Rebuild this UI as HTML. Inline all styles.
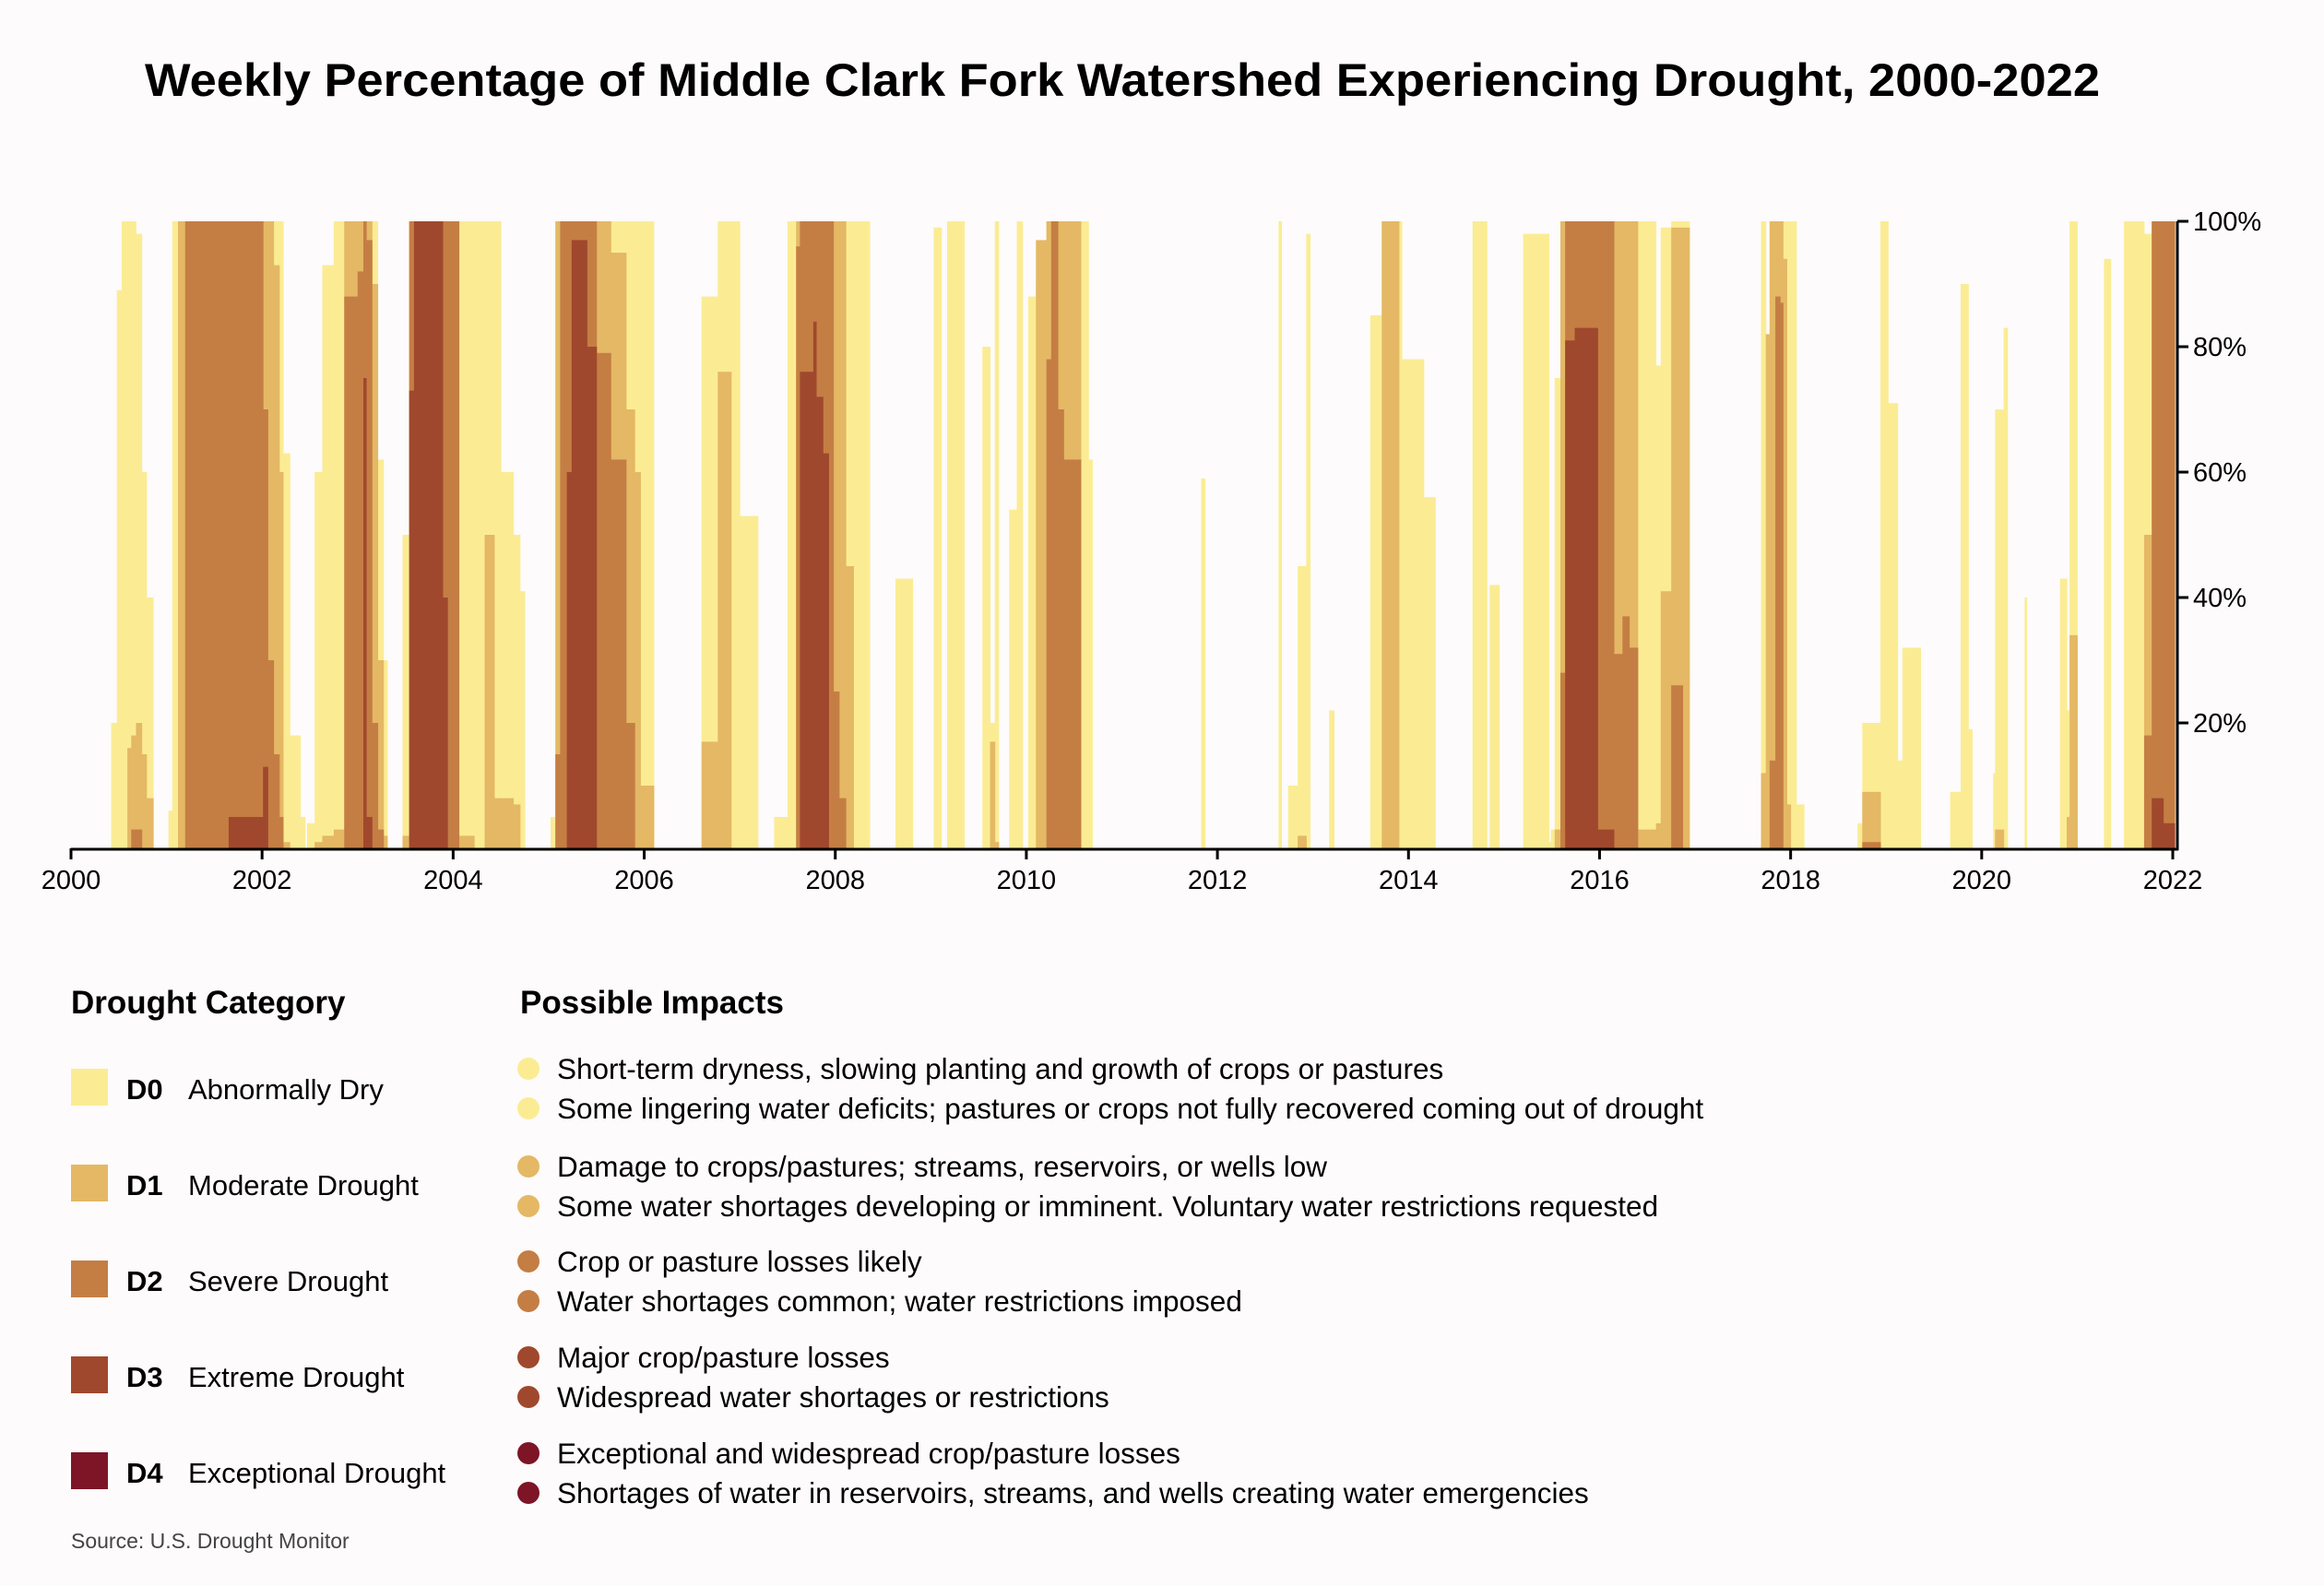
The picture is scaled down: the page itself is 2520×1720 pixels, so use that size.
<!DOCTYPE html>
<html><head><meta charset="utf-8"><style>
html,body{margin:0;padding:0;background:#fdfbfb;}
svg{display:block;font-family:"Liberation Sans",sans-serif;}
</style></head><body>
<svg id="chart" width="2520" height="1720" viewBox="0 0 2520 1720" xmlns="http://www.w3.org/2000/svg">
<rect x="0" y="0" width="2520" height="1720" fill="#fdfbfb"/>
<text x="1217" y="104" text-anchor="middle" font-size="50" font-weight="bold" fill="#000" textLength="2120" lengthAdjust="spacingAndGlyphs">Weekly Percentage of Middle Clark Fork Watershed Experiencing Drought, 2000-2022</text>
<g id="bars"></g>
<g id="axes"></g>

<text x="77" y="1099" font-size="35" font-weight="bold" fill="#000">Drought Category</text>
<text x="564" y="1099" font-size="35" font-weight="bold" fill="#000">Possible Impacts</text>

<g><rect x="77" y="1159" width="40" height="40" fill="#fbec94"/><text x="137" y="1192" font-size="31" font-weight="bold">D0</text><text x="204" y="1192" font-size="31">Abnormally Dry</text></g>
<g><rect x="77" y="1263" width="40" height="40" fill="#e4b865"/><text x="137" y="1296" font-size="31" font-weight="bold">D1</text><text x="204" y="1296" font-size="31">Moderate Drought</text></g>
<g><rect x="77" y="1367" width="40" height="40" fill="#c47e44"/><text x="137" y="1400" font-size="31" font-weight="bold">D2</text><text x="204" y="1400" font-size="31">Severe Drought</text></g>
<g><rect x="77" y="1471" width="40" height="40" fill="#a0482d"/><text x="137" y="1504" font-size="31" font-weight="bold">D3</text><text x="204" y="1504" font-size="31">Extreme Drought</text></g>
<g><rect x="77" y="1575" width="40" height="40" fill="#7d1527"/><text x="137" y="1608" font-size="31" font-weight="bold">D4</text><text x="204" y="1608" font-size="31">Exceptional Drought</text></g>

<g font-size="31.5" fill="#000">
<circle cx="573" cy="1159" r="12" fill="#fbec94"/><text x="604" y="1170">Short-term dryness, slowing planting and growth of crops or pastures</text>
<circle cx="573" cy="1202" r="12" fill="#fbec94"/><text x="604" y="1213">Some lingering water deficits; pastures or crops not fully recovered coming out of drought</text>
<circle cx="573" cy="1265" r="12" fill="#e4b865"/><text x="604" y="1276">Damage to crops/pastures; streams, reservoirs, or wells low</text>
<circle cx="573" cy="1308" r="12" fill="#e4b865"/><text x="604" y="1319">Some water shortages developing or imminent. Voluntary water restrictions requested</text>
<circle cx="573" cy="1368" r="12" fill="#c47e44"/><text x="604" y="1379">Crop or pasture losses likely</text>
<circle cx="573" cy="1411" r="12" fill="#c47e44"/><text x="604" y="1422">Water shortages common; water restrictions imposed</text>
<circle cx="573" cy="1472" r="12" fill="#a0482d"/><text x="604" y="1483">Major crop/pasture losses</text>
<circle cx="573" cy="1515" r="12" fill="#a0482d"/><text x="604" y="1526">Widespread water shortages or restrictions</text>
<circle cx="573" cy="1576" r="12" fill="#7d1527"/><text x="604" y="1587">Exceptional and widespread crop/pasture losses</text>
<circle cx="573" cy="1619" r="12" fill="#7d1527"/><text x="604" y="1630">Shortages of water in reservoirs, streams, and wells creating water emergencies</text>
</g>
<text x="77" y="1679" font-size="23" fill="#444">Source: U.S. Drought Monitor</text>
</svg>
<script>
const segStart=[2000.42,2000.48,2000.53,2000.59,2000.63,2000.68,2000.74,2000.79,
2001.02,2001.06,2001.12,2001.195,2001.65,2002.01,2002.06,2002.12,2002.18,2002.22,2002.29,2002.4,
2002.47,2002.55,2002.63,2002.75,2002.86,2003.0,2003.06,2003.09,2003.15,2003.21,2003.27,
2003.47,2003.54,2003.59,2003.89,2003.94,2004.02,2004.06,2004.22,2004.33,2004.43,2004.5,2004.63,2004.7,
2005.02,2005.07,2005.12,2005.19,2005.24,2005.4,2005.5,2005.65,2005.81,2005.9,2005.96,
2006.6,2006.77,2006.91,2007.0,2007.36,2007.5,2007.59,2007.63,2007.77,2007.8,2007.87,2007.93,2007.98,2008.04,2008.11,2008.19,
2008.63,2009.03,2009.17,2009.54,2009.62,2009.67,2009.82,2009.9,2010.02,2010.1,2010.21,2010.26,2010.33,2010.39,2010.57,2010.65,
2011.83,2012.64,2012.74,2012.84,2012.93,2013.17,2013.6,2013.72,2013.9,2013.93,2014.16,2014.67,2014.85,
2015.2,2015.47,2015.49,2015.53,2015.59,2015.64,2015.74,2015.98,2016.15,2016.24,2016.31,2016.4,2016.59,2016.64,2016.75,2016.87,
2017.69,2017.74,2017.78,2017.84,2017.89,2017.92,2017.96,2018.0,2018.06,
2018.7,2018.75,2018.94,2019.02,2019.12,2019.17,
2019.67,2019.78,2019.86,2020.12,2020.14,2020.23,2020.45,2020.82,2020.89,2020.92,2021.28,2021.49,2021.6,2021.7,2021.78,2021.9];
const segEnd=[2000.48,2000.53,2000.59,2000.63,2000.68,2000.74,2000.79,2000.86,
2001.06,2001.12,2001.195,2001.65,2002.01,2002.06,2002.12,2002.18,2002.22,2002.29,2002.4,2002.45,
2002.55,2002.63,2002.75,2002.86,2003.0,2003.06,2003.09,2003.15,2003.21,2003.27,2003.31,
2003.54,2003.59,2003.89,2003.94,2004.02,2004.06,2004.22,2004.33,2004.43,2004.5,2004.63,2004.7,2004.75,
2005.07,2005.12,2005.19,2005.24,2005.4,2005.5,2005.65,2005.81,2005.9,2005.96,2006.1,
2006.77,2006.91,2007.0,2007.19,2007.5,2007.59,2007.63,2007.77,2007.8,2007.87,2007.93,2007.98,2008.04,2008.11,2008.19,2008.36,
2008.81,2009.11,2009.35,2009.62,2009.67,2009.71,2009.9,2009.96,2010.1,2010.21,2010.26,2010.33,2010.39,2010.57,2010.65,2010.69,
2011.87,2012.67,2012.84,2012.93,2012.97,2013.22,2013.72,2013.9,2013.93,2014.16,2014.28,2014.82,2014.95,
2015.47,2015.49,2015.53,2015.59,2015.64,2015.74,2015.98,2016.15,2016.24,2016.31,2016.4,2016.59,2016.64,2016.75,2016.87,2016.94,
2017.74,2017.78,2017.84,2017.89,2017.92,2017.96,2018.0,2018.06,2018.14,
2018.75,2018.94,2019.02,2019.12,2019.17,2019.36,
2019.78,2019.86,2019.9,2020.14,2020.23,2020.27,2020.47,2020.89,2020.92,2021.0,2021.35,2021.6,2021.7,2021.78,2021.9,2022.02];
const d0=[20,89,100,100,100,98,60,40, 6,100,100,100,100,100,100,100,100,63,18,5, 4,60,93,100,100,100,100,100,100,62,30,
50,100,100,100,100,100,100,100,100,100,60,50,41,5, 2,100,100,100,100,100,100,100,100,100,88,
100,100,53,5,100,62,100,100,100,100,100,100,100,100,100,43,
99,100,80,20,100,54,100,88,90,100,100,100,100,100,62,59,
100,10,45,98,22,85,100,100,78,56,100,42,98,
1,3,75,100,100,100,100,100,100,100,100,77,99,100,100,100,
53,100,100,100,100,100,100,7,4, 20,100,71,14,32,9, 90,19,12,70,83,40,43,22,100,94,100,100,98,100,100,100];
const d1=[0,0,0,16,18,20,15,8, 0,0,100,100,100,100,100,93,60,1,0,0, 0,1,2,3,100,100,100,100,90,30,2,
2,100,100,100,100,100,2,0,50,8,8,7,0, 0,100,100,100,100,100,100,95,70,60,10,
17,76,0,0,0,0,100,100,100,100,100,100,100,100,45,0,
0,0,0,0,17,1,0,0,0,97,100,100,100,100,0,0,
0,0,0,2,0,0,0,100,0,0,0,0,0,
0,0,0,3,100,100,100,100,100,100,100,3,4,41,99,99,
12,82,100,100,100,94,7,0,0, 0,9,0,0,0,0, 0,0,0,0,3,0,0,0,5,34,0,0,0,50,100,100];
const d2=[0,0,0,0,3,3,0,0, 0,0,0,100,100,70,30,15,5,0,0,0, 0,0,0,0,88,92,100,97,20,3,0,
0,100,100,100,100,100,0,0,0,0,0,0,0, 0,15,100,100,100,100,79,62,20,0,0,
0,0,0,0,0,0,96,100,100,100,100,100,25,8,0,0,
0,0,0,0,0,0,0,0,0,0,78,100,70,62,0,0,
0,0,0,0,0,0,0,0,0,0,0,0,0,
0,0,0,0,28,100,100,100,31,37,32,0,0,0,26,0,
0,0,14,88,87,0,0,0,0, 0,1,0,0,0,0, 0,0,0,0,0,0,0,0,0,0,0,0,0,18,100,100];
const d3=[0,0,0,0,0,0,0,0, 0,0,0,0,5,13,0,0,0,0,0,0, 0,0,0,0,0,0,75,5,0,0,0,
0,73,100,40,0,0,0,0,0,0,0,0,0, 0,0,0,60,97,80,0,0,0,0,0,
0,0,0,0,0,0,0,76,84,72,63,0,0,0,0,0,
0,0,0,0,0,0,0,0,0,0,0,0,0,0,0,0,
0,0,0,0,0,0,0,0,0,0,0,0,0,
0,0,0,0,0,81,83,3,0,0,0,0,0,0,0,0,
0,0,0,0,0,0,0,0,0, 0,0,0,0,0,0, 0,0,0,0,0,0,0,0,0,0,0,0,0,0,8,4];
const d4=segStart.map(()=>0);
const xTicks=[2000,2002,2004,2006,2008,2010,2012,2014,2016,2018,2020,2022];
const yTicks=[20,40,60,80,100];
const levels=[d0,d1,d2,d3,d4];
const colors=['#fbec94','#e4b865','#c47e44','#a0482d','#7d1527'];
const levelNames=['d0','d1','d2','d3','d4'];

const X0=77,X1=2356,Y0=920,Y1=240;
function xs(y){return X0+(y-2000)/22*(X1-X0);}
function ys(p){return Y0-p/100*(Y0-Y1);}
const NS='http://www.w3.org/2000/svg';
const bars=document.getElementById('bars');
for(let k=0;k<levels.length;k++){
  for(let i=0;i<segStart.length;i++){
    const v=levels[k][i]; if(!v) continue;
    const r=document.createElementNS(NS,'rect');
    const xa=xs(segStart[i]),xb=xs(segEnd[i]);
    r.setAttribute('x',xa);r.setAttribute('width',Math.max(1,xb-xa+0.5));
    r.setAttribute('y',ys(v));r.setAttribute('height',Y0-ys(v));
    r.setAttribute('fill',colors[k]);
    
    
    bars.appendChild(r);
  }
}
const ax=document.getElementById('axes');
function mk(tag,attrs,txt){const e=document.createElementNS(NS,tag);for(const a in attrs)e.setAttribute(a,attrs[a]);if(txt!==undefined)e.textContent=txt;ax.appendChild(e);return e;}
let l=mk('line',{x1:X0,x2:X1+6,y1:Y0+1,y2:Y0+1,stroke:'#000','stroke-width':3});


l=mk('line',{x1:X1+5,x2:X1+5,y1:Y1,y2:Y0+2,stroke:'#000','stroke-width':3});


xTicks.forEach(t=>{
  const tk=mk('line',{x1:xs(t),x2:xs(t),y1:Y0,y2:Y0+12,stroke:'#000','stroke-width':3});
  
  
  const tx=mk('text',{x:xs(t),y:Y0+44,'text-anchor':'middle','font-size':29,fill:'#000'},String(t));
  
  
});
yTicks.forEach(t=>{
  const tk=mk('line',{x1:X1+5,x2:X1+17,y1:ys(t),y2:ys(t),stroke:'#000','stroke-width':3});
  
  
  const tx=mk('text',{x:X1+22,y:ys(t)+10,'font-size':29,fill:'#000'},t+'%');
  
  
});
</script>
</body></html>
